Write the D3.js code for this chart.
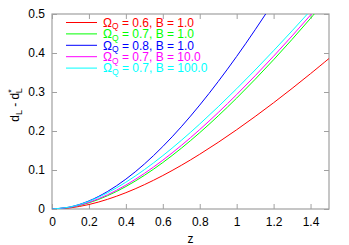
<!DOCTYPE html>
<html><head><meta charset="utf-8">
<script src="https://cdn.jsdelivr.net/npm/d3@7"></script>
<style>
html,body{margin:0;padding:0;background:#fff;}
text{font-family:"Liberation Sans",Arial,Helvetica,sans-serif;}
</style></head>
<body><svg id="c" width="349" height="245"></svg>
<script>
const zValues = [0,0.1,0.2,0.3,0.4,0.5,0.6,0.7,0.8,0.9,1.0,1.1,1.2,1.3,1.4,1.5];
const seriesNames = ["Ω_Q = 0.6, B = 1.0","Ω_Q = 0.7, B = 1.0","Ω_Q = 0.8, B = 1.0","Ω_Q = 0.7, B = 10.0","Ω_Q = 0.7, B = 100.0"];
const redVals     = [0,0.0030,0.0115,0.0247,0.0418,0.0623,0.0858,0.1119,0.1404,0.1709,0.2032,0.2371,0.2724,0.3091,0.3470,0.3859];
const greenVals   = [0,0.0042,0.0158,0.0339,0.0576,0.0862,0.1191,0.1557,0.1957,0.2387,0.2844,0.3325,0.3827,0.4349,0.4889,0.5446];
const blueVals    = [0,0.0054,0.0207,0.0447,0.0765,0.1152,0.1602,0.2108,0.2665,0.3268,0.3912,0.4595,0.5312,0.6061,0.6850,0.7680];
const magentaVals = [0,0.0045,0.0171,0.0363,0.0613,0.0911,0.1252,0.1628,0.2037,0.2473,0.2934,0.3416,0.3918,0.4438,0.4973,0.5522];
const cyanVals    = [0,0.0054,0.0198,0.0414,0.0687,0.1008,0.1367,0.1759,0.2179,0.2621,0.3084,0.3564,0.4060,0.4568,0.5088,0.5619];
const xTicks = [0,0.2,0.4,0.6,0.8,1,1.2,1.4];
const yTicks = [0,0.1,0.2,0.3,0.4,0.5];
const colors = ["#ff0000","#00ff00","#0000ff","#ff00ff","#00ffff"];
const allSeries = [redVals,greenVals,blueVals,magentaVals,cyanVals];

const svg = d3.select("#c");
const L=52, R=329, T=14, B=209;
const x = d3.scaleLinear().domain([0,1.5]).range([L,R]);
const y = d3.scaleLinear().domain([0,0.5]).range([B,T]);
const axisColor="#a0a0a0";

svg.append("clipPath").attr("id","clip").append("rect")
  .attr("x",L).attr("y",T).attr("width",R-L).attr("height",B-T);

const gx = svg.append("g").attr("transform",`translate(0,${B})`)
  .call(d3.axisBottom(x).tickValues(xTicks).tickSize(-5).tickPadding(8).tickFormat(d3.format("")));
const gxt = svg.append("g").attr("transform",`translate(0,${T})`)
  .call(d3.axisTop(x).tickValues(xTicks).tickSize(-5).tickFormat(""));
const gy = svg.append("g").attr("transform",`translate(${L},0)`)
  .call(d3.axisLeft(y).tickValues(yTicks).tickSize(-5).tickPadding(7).tickFormat(d3.format("")));
const gyr = svg.append("g").attr("transform",`translate(${R},0)`)
  .call(d3.axisRight(y).tickValues(yTicks).tickSize(-5).tickFormat(""));
[gx,gxt,gy,gyr].forEach(g=>{
  g.select(".domain").remove();
  g.selectAll(".tick line").attr("stroke",axisColor);
  g.selectAll(".tick text").attr("fill","#000").style("font-size","12px").style("font-family","'Liberation Sans',Arial,sans-serif");
});
svg.append("rect").attr("x",L).attr("y",T).attr("width",R-L).attr("height",B-T)
  .attr("fill","none").attr("stroke",axisColor).attr("stroke-width",1.2);

const line = d3.line().x((d,i)=>x(zValues[i])).y(d=>y(d)).curve(d3.curveCatmullRom);
const plot = svg.append("g").attr("clip-path","url(#clip)");
allSeries.forEach((vals,i)=>{
  plot.append("path").datum(vals).attr("d",line)
    .attr("fill","none").attr("stroke",colors[i]).attr("stroke-width",1);
});

const lg = svg.append("g");
seriesNames.forEach((name,i)=>{
  const yy = 22.5 + i*11.4;
  lg.append("line").attr("x1",66).attr("x2",97).attr("y1",yy).attr("y2",yy)
    .attr("stroke",colors[i]).attr("stroke-width",1);
  const parts = name.split("_Q");
  const t = lg.append("text").attr("x",103).attr("y",yy+4.3).attr("fill",colors[i]).style("font-size","12px");
  t.append("tspan").text(parts[0]);
  t.append("tspan").attr("dy",2.5).style("font-size","8.5px").text("Q");
  t.append("tspan").attr("dy",-2.5).text(parts[1]);
});

svg.append("text").attr("x",(L+R)/2).attr("y",243).attr("text-anchor","middle")
  .style("font-size","12px").text("z");
const yl = svg.append("text").attr("transform","translate(19,105) rotate(-90)")
  .attr("text-anchor","middle").style("font-size","12px");
yl.append("tspan").text("d");
yl.append("tspan").attr("dy",3).style("font-size","9px").text("L");
yl.append("tspan").attr("dy",-3).text(" - d");
yl.append("tspan").attr("dy",-5).style("font-size","9px").text("*");
yl.append("tspan").attr("dx",-4).attr("dy",8).style("font-size","9px").text("L");
</script></body></html>
